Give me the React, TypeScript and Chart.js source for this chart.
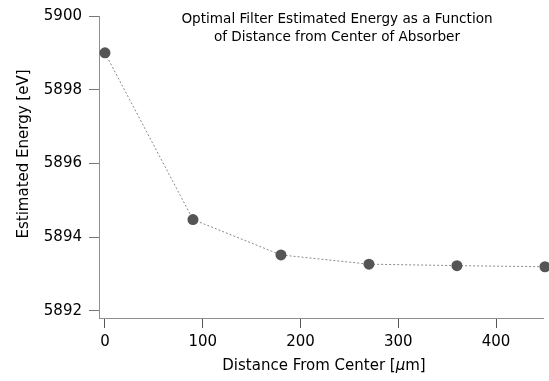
import React, { useEffect, useRef } from "react";
import { Chart, registerables } from "chart.js";

Chart.register(...registerables);

const distances = [0, 90, 180, 270, 360, 450];
const energies = [5899.0, 5894.48, 5893.52, 5893.27, 5893.23, 5893.2];
const xTicks = [0, 100, 200, 300, 400];
const yTicks = [5892, 5894, 5896, 5898, 5900];
const titleLines = [
  "Optimal Filter Estimated Energy as a Function",
  "of Distance from Center of Absorber",
];
const xTitleParts = ["Distance From Center [", "µ", "m]"];
const yTitle = "Estimated Energy [eV]";

const FAMILY = "'DejaVu Sans', Verdana, sans-serif";

const textPlugin = {
  id: "customText",
  afterDraw(chart: any) {
    const ctx = chart.ctx as CanvasRenderingContext2D;
    ctx.save();
    ctx.fillStyle = "#000";
    ctx.textAlign = "center";
    ctx.textBaseline = "middle";
    // title inside plot
    ctx.font = `13.6px ${FAMILY}`;
    ctx.fillText(titleLines[0], 337, 19);
    ctx.fillText(titleLines[1], 337, 37);

    // x title with italic mu
    const normal = `15px ${FAMILY}`;
    const italic = `italic 15px ${FAMILY}`;
    ctx.textAlign = "left";
    ctx.font = normal;
    const w0 = ctx.measureText(xTitleParts[0]).width;
    const w2 = ctx.measureText(xTitleParts[2]).width;
    ctx.font = italic;
    const w1 = ctx.measureText(xTitleParts[1]).width;
    const total = w0 + w1 + w2;
    let x = 324 - total / 2;
    const y = 366;
    ctx.font = normal;
    ctx.fillText(xTitleParts[0], x, y);
    x += w0;
    ctx.font = italic;
    ctx.fillText(xTitleParts[1], x, y);
    x += w1;
    ctx.font = normal;
    ctx.fillText(xTitleParts[2], x, y);

    // y title rotated
    ctx.translate(24, 154);
    ctx.rotate(-Math.PI / 2);
    ctx.textAlign = "center";
    ctx.font = normal;
    ctx.fillText(yTitle, 0, 0);
    ctx.restore();
  },
};

export default function App() {
  const ref = useRef<HTMLCanvasElement | null>(null);

  useEffect(() => {
    if (!ref.current) return;
    const chart = new Chart(ref.current, {
      type: "line",
      data: {
        datasets: [
          {
            data: distances.map((d, i) => ({ x: d, y: energies[i] })),
            borderColor: "#8a8a8a",
            borderWidth: 1,
            borderDash: [2, 2],
            pointRadius: 5.5,
            pointBackgroundColor: "#555555",
            pointBorderWidth: 0,
            pointHoverRadius: 5.5,
            tension: 0,
            clip: false as any,
          },
        ],
      },
      options: {
        responsive: false,
        animation: false,
        devicePixelRatio: 1,
        layout: { padding: { left: 0, right: 6, top: 11, bottom: 0 } },
        plugins: {
          legend: { display: false },
          title: { display: false },
          tooltip: { enabled: false },
        },
        scales: {
          x: {
            type: "linear",
            min: -6.1,
            max: 448,
            afterBuildTicks: (s: any) => {
              s.ticks = xTicks.map((v) => ({ value: v }));
            },
            afterFit: (s: any) => {
              s.height = 63;
            },
            grid: {
              drawOnChartArea: false,
              drawTicks: true,
              tickLength: 10,
              color: "#555",
            },
            border: { display: true, color: "#8f8f8f", width: 1 },
            ticks: {
              padding: 5,
              color: "#000",
              font: { family: FAMILY, size: 15 },
              maxRotation: 0,
              autoSkip: false,
              callback: (v: any) => String(v),
            },
          },
          y: {
            type: "linear",
            min: 5891.81,
            max: 5900,
            afterBuildTicks: (s: any) => {
              s.ticks = yTicks.map((v) => ({ value: v }));
            },
            afterFit: (s: any) => {
              s.width = 99;
            },
            grid: {
              drawOnChartArea: false,
              drawTicks: true,
              tickLength: 10,
              color: "#777",
            },
            border: { display: true, color: "#8f8f8f", width: 1 },
            ticks: {
              padding: 7,
              color: "#000",
              font: { family: FAMILY, size: 15 },
              autoSkip: false,
              callback: (v: any) => String(v),
            },
          },
        },
      },
      plugins: [textPlugin],
    });
    return () => chart.destroy();
  }, []);

  return (
    <div style={{ position: "absolute", left: 0, top: 0, width: 549, height: 381, background: "#fff" }}>
      <canvas ref={ref} width={549} height={381} style={{ display: "block" }} />
    </div>
  );
}
